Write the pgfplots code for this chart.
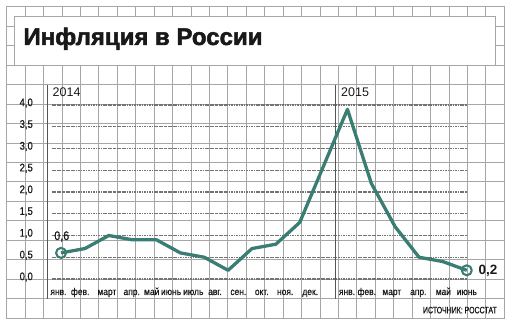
\documentclass[border=0pt]{standalone}
\usepackage{fontspec}
\setmainfont{Liberation Sans}
\newfontfamily\titlefont[FakeBold=2]{Liberation Sans Bold}
\newfontfamily\condfont[FakeStretch=0.75, FakeBold=0.8]{Liberation Sans}
\newfontfamily\labfont[FakeStretch=0.86, FakeBold=0.8]{Liberation Sans}
\usepackage{pgfplots}
\pgfplotsset{compat=1.18}
\definecolor{paper}{RGB}{166,166,166}
\definecolor{linec}{RGB}{58,125,115}
\definecolor{axc}{RGB}{85,85,85}
\definecolor{dotc}{RGB}{115,115,115}
\definecolor{txt}{RGB}{25,25,25}
\begin{document}
\begin{tikzpicture}[x=1pt,y=1pt]
\useasboundingbox (0,0) rectangle (512,327);
% graph paper
\foreach \k in {0,...,27} {
  \pgfmathsetmacro\xx{6.7+18.43*\k}
  \draw[paper, line width=0.9pt] (\xx,8.8) -- (\xx,320.3);
}
\foreach \k in {0,...,16} {
  \pgfmathsetmacro\yy{320.3-19.47*\k}
  \draw[paper, line width=0.9pt] (6.7,\yy) -- (504.3,\yy);
}
\draw[paper, line width=1.1pt] (6.7,8.8) rectangle (504.3,320.3);
% title box
\fill[white] (14,261.9) rectangle (495.7,311);
\draw[paper, line width=0.9pt] (14,261.9) rectangle (495.7,311);
\node[anchor=base west, inner sep=0pt, text=txt] at (23.3,282) {\titlefont\fontsize{24}{26}\selectfont Инфляция в России};
% axis & year separator
\draw[axc, line width=0.9pt] (47.7,28) -- (47.7,242);
\draw[axc, line width=0.9pt] (335,28) -- (335,242);
\node[anchor=base west, inner sep=0pt, text=txt] at (52.5,230.3) {\fontsize{12.5}{14}\selectfont 2014};
\node[anchor=base west, inner sep=0pt, text=txt] at (341,230.3) {\fontsize{12.5}{14}\selectfont 2015};
\node[anchor=base east, inner sep=0pt, text=txt] at (497,13.7) {\condfont\fontsize{9.3}{11}\selectfont ИСТОЧНИК: РОССТАТ};
\begin{axis}[
  at={(52pt,48pt)}, anchor=south west,
  x=23.865pt, y=43.5pt,
  xmin=-0.38, xmax=17.02, ymin=0, ymax=4,
  enlargelimits=false, clip=false,
  axis line style={draw=none},
  major tick length=0pt,
  ytick={0,0.5,...,4},
  ymajorgrids,
  grid style={dotc, line width=1.2pt, dash pattern=on 2.5pt off 0.8pt on 1pt off 0.8pt},
  xtick={-0.11,0.80,1.92,2.96,3.80,4.61,5.54,6.45,7.43,8.41,9.39,10.44,11.98,12.81,13.86,14.97,16.02,17.0},
  xticklabels={янв.,фев.,март,апр.,май,июнь,июль,авг.,сен.,окт.,ноя.,дек.,янв.,фев.,март,апр.,май,июнь},
  xticklabel style={anchor=base, inner sep=0pt, yshift=-16pt, font=\labfont\fontsize{9.8}{10}\selectfont, text=txt},
  yticklabel style={anchor=east, inner sep=0pt, xshift=-19pt, yshift=2pt, font=\labfont\fontsize{11}{11}\selectfont, text=txt},
  /pgf/number format/.cd, use comma, fixed, fixed zerofill, precision=1, assume math mode=true,
]
\addplot[linec, line width=3.3pt, line join=round, mark=o, mark size=5pt, mark indices={1,18},
  mark options={fill=white, line width=2.1pt}] coordinates {
(0,0.6) (1,0.7) (2,1.0) (3,0.9) (4,0.9) (5,0.6) (6,0.5) (7,0.2) (8,0.7) (9,0.8) (10,1.3) (11,2.6)
(12,3.9) (13,2.2) (14,1.2) (15,0.5) (16,0.4) (17,0.2)
};
\node[anchor=base, inner sep=0pt, text=txt, yshift=12.9pt, xshift=0.7pt] at (axis cs:0,0.6) {\labfont\fontsize{12.5}{13}\selectfont 0,6};
\node[anchor=base west, inner sep=0pt, text=txt, yshift=-4.5pt, xshift=11.6pt] at (axis cs:17,0.2) {\bfseries\fontsize{13.5}{15}\selectfont 0,2};
\end{axis}
\end{tikzpicture}
\end{document}
